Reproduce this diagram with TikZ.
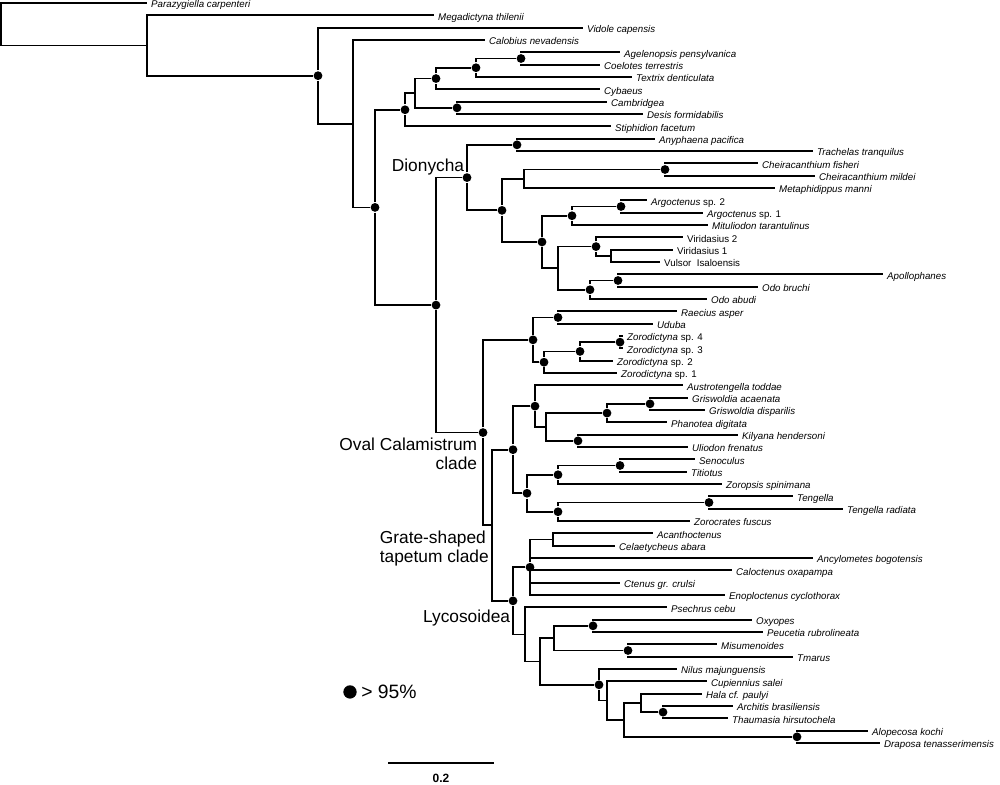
\documentclass[tikz,border=0pt]{standalone}
\usepackage{fontspec}
\setmainfont{Liberation Sans}
\usepackage{tikz}

\begin{document}
\begin{tikzpicture}[
	x=0.75pt, y=-9.25pt, line width=1.3pt,
	leaf/.style={anchor=west, font=\fontsize{7.3}{8}\selectfont\itshape, inner xsep=2.5pt, inner ysep=0, text height=7pt, text depth=0pt},
	upright/.style={font=\fontsize{7.3}{8}\selectfont\upshape},
	circ/.style={circle, fill, minimum size=6.6pt, inner sep=0},
	clade/.style={font=\fontsize{13}{14.3}\selectfont, inner sep=0}
]
\useasboundingbox (0,-0.2432) rectangle (1000,63.326);

% taxa, one row each
\node[leaf] (parazyg) at (147,0) {Parazygiella carpenteri};
\node[leaf] (megad) at (434,1) {Megadictyna thilenii};
\node[leaf] (vidole) at (583,2) {Vidole capensis};
\node[leaf] (calob) at (485,3) {Calobius nevadensis};
\node[leaf] (agel) at (620,4) {Agelenopsis pensylvanica};
\node[leaf] (coel) at (600,5) {Coelotes terrestris};
\node[leaf] (textrix) at (632,6) {Textrix denticulata};
\node[leaf] (cybaeus) at (600,7) {Cybaeus};
\node[leaf] (cambr) at (607,8) {Cambridgea};
\node[leaf] (desis) at (643,9) {Desis formidabilis};
\node[leaf] (stiph) at (611,10) {Stiphidion facetum};
\node[leaf] (anyph) at (655,11) {Anyphaena pacifica};
\node[leaf] (trach) at (813,12) {Trachelas tranquilus};
\node[leaf] (cheifi) at (758,13) {Cheiracanthium fisheri};
\node[leaf] (cheimi) at (815,14) {Cheiracanthium mildei};
\node[leaf] (metaph) at (775,15) {Metaphidippus manni};
\node[leaf] (argoc2) at (647,16) {Argoctenus \upshape sp. 2};
\node[leaf] (argoc1) at (703,17) {Argoctenus \upshape sp. 1};
\node[leaf] (mitul) at (708,18) {Mituliodon tarantulinus};
\node[leaf, upright] (virid2) at (683,19) {Viridasius 2};
\node[leaf, upright] (virid1) at (673,20) {Viridasius 1};
\node[leaf, upright] (vulsor) at (660,21) {Vulsor\ \ Isaloensis};
\node[leaf] (apoll) at (883,22) {Apollophanes};
\node[leaf] (odobr) at (758,23) {Odo bruchi};
\node[leaf] (odoab) at (707,24) {Odo abudi};
\node[leaf] (raec) at (677,25) {Raecius asper};
\node[leaf] (uduba) at (653,26) {Uduba};
\node[leaf] (zoro4) at (623,27) {Zorodictyna \upshape sp. 4};
\node[leaf] (zoro3) at (623,28) {Zorodictyna \upshape sp. 3};
\node[leaf] (zoro2) at (613,29) {Zorodictyna \upshape sp. 2};
\node[leaf] (zoro1) at (617,30) {Zorodictyna \upshape sp. 1};
\node[leaf] (austro) at (683,31) {Austrotengella toddae};
\node[leaf] (grisac) at (688,32) {Griswoldia acaenata};
\node[leaf] (grisdi) at (705,33) {Griswoldia disparilis};
\node[leaf] (phan) at (667,34) {Phanotea digitata};
\node[leaf] (kily) at (738,35) {Kilyana hendersoni};
\node[leaf] (uliod) at (688,36) {Uliodon frenatus};
\node[leaf] (senoc) at (695,37) {Senoculus};
\node[leaf] (titio) at (687,38) {Titiotus};
\node[leaf] (zoropsis) at (722,39) {Zoropsis spinimana};
\node[leaf] (tengel) at (793,40) {Tengella};
\node[leaf] (tengra) at (843,41) {Tengella radiata};
\node[leaf] (zoroc) at (690,42) {Zorocrates fuscus};
\node[leaf] (acanth) at (653,43) {Acanthoctenus};
\node[leaf] (celaet) at (615,44) {Celaetycheus abara};
\node[leaf] (ancyl) at (813,45) {Ancylometes bogotensis};
\node[leaf] (caloc) at (732,46) {Caloctenus oxapampa};
\node[leaf] (ctenus) at (620,47) {Ctenus gr. crulsi};
\node[leaf] (enopl) at (725,48) {Enoploctenus cyclothorax};
\node[leaf] (psech) at (667,49) {Psechrus cebu};
\node[leaf] (oxyop) at (752,50) {Oxyopes};
\node[leaf] (peuc) at (763,51) {Peucetia rubrolineata};
\node[leaf] (misum) at (717,52) {Misumenoides};
\node[leaf] (tmarus) at (793,53) {Tmarus};
\node[leaf] (nilus) at (677,54) {Nilus majunguensis};
\node[leaf] (cupien) at (707,55) {Cupiennius salei};
\node[leaf] (hala) at (702,56) {Hala cf. paulyi};
\node[leaf] (archit) at (733,57) {Architis brasiliensis};
\node[leaf] (thaum) at (728,58) {Thaumasia hirsutochela};
\node[leaf] (alop) at (868,59) {Alopecosa kochi};
\node[leaf] (drap) at (880,60) {Draposa tenasserimensis};

% inner nodes
\coordinate (root) at (1,1.7234);
\coordinate (nA) at (147,3.4468);
\node[circ] (nB) at (318,5.8936) {};
\coordinate (nC) at (353,9.7872);
\node[circ] (nD) at (375,16.5745) {};
\node[circ] (nE) at (405,8.6563) {};
\coordinate (nF) at (415,7.3125);
\node[circ] (nG) at (436,6.125) {};
\node[circ] (nI) at (476,5.25) {};
\node[circ] (nJ) at (521,4.5) {};
\node[circ] (nH) at (457,8.5) {};
\node[circ] (nOut) at (436,24.4927) {};
\node[circ] (nDion) at (467,14.1563) {};
\node[circ] (nK) at (517,11.5) {};
\node[circ] (nV) at (502,16.8125) {};
\coordinate (nM) at (524,14.25);
\node[circ] (nL) at (665,13.5) {};
\node[circ] (nU) at (542,19.375) {};
\node[circ] (nO) at (572,17.25) {};
\node[circ] (nN) at (621,16.5) {};
\coordinate (nT) at (558,21.5);
\node[circ] (nQ) at (596,19.75) {};
\coordinate (nP) at (611,20.5);
\node[circ] (nS) at (590,23.25) {};
\node[circ] (nR) at (618,22.5) {};
\node[circ] (nOval) at (483,34.8291) {};
\node[circ] (nAA) at (533,27.3125) {};
\node[circ] (nW) at (558,25.5) {};
\node[circ] (nZ) at (544,29.125) {};
\node[circ] (nY) at (580,28.25) {};
\node[circ] (nX) at (620,27.5) {};
\coordinate (nGrate) at (492,42.3457);
\node[circ] (nAE) at (513,36.2188) {};
\node[circ] (nAC) at (535,32.6875) {};
\coordinate (nAB) at (546,34.375);
\node[circ] (nPhan) at (607,33.25) {};
\node[circ] (nGris) at (650,32.5) {};
\node[circ] (nKil) at (578,35.5) {};
\node[circ] (nAD) at (527,39.75) {};
\node[circ] (nZorop) at (558,38.25) {};
\node[circ] (nSen) at (620,37.5) {};
\node[circ] (nZoroc) at (558,41.25) {};
\node[circ] (nTeng) at (709,40.5) {};
\node[circ] (nLycos) at (513,48.4727) {};
\node[circ] (nCten) at (530,45.75) {};
\coordinate (nAcan) at (553,43.5);
\coordinate (nAI) at (525,51.1953);
\coordinate (nAH) at (540,53.3906);
\coordinate (nAF) at (554,51.5);
\node[circ] (nOxy) at (593,50.5) {};
\node[circ] (nMis) at (628,52.5) {};
\node[circ] (nNil) at (599,55.2813) {};
\coordinate (nCup) at (607,56.5625);
\coordinate (nAG) at (624,58.125);
\coordinate (nHala) at (641,56.75);
\node[circ] (nArch) at (663,57.5) {};
\node[circ] (nLyc) at (797,59.5) {};

\draw (root) |- (parazyg) (root) |- (nA);
\draw (nA) |- (megad) (nA) |- (nB);
\draw (nB) |- (vidole) (nB) |- (nC);
\draw (nC) |- (calob) (nC) |- (nD);
\draw (nD) |- (nE) (nD) |- (nOut);
\draw (nE) |- (nF) (nE) |- (stiph);
\draw (nF) |- (nG) (nF) |- (nH);
\draw (nG) |- (nI) (nG) |- (cybaeus);
\draw (nI) |- (nJ) (nI) |- (textrix);
\draw (nJ) |- (agel) (nJ) |- (coel);
\draw (nH) |- (cambr) (nH) |- (desis);
\draw (nOut) |- (nDion) (nOut) |- (nOval);
\draw (nDion) |- (nK) (nDion) |- (nV);
\draw (nK) |- (anyph) (nK) |- (trach);
\draw (nV) |- (nM) (nV) |- (nU);
\draw (nM) |- (nL) (nM) |- (metaph);
\draw (nL) |- (cheifi) (nL) |- (cheimi);
\draw (nU) |- (nO) (nU) |- (nT);
\draw (nO) |- (nN) (nO) |- (mitul);
\draw (nN) |- (argoc2) (nN) |- (argoc1);
\draw (nT) |- (nQ) (nT) |- (nS);
\draw (nQ) |- (virid2) (nQ) |- (nP);
\draw (nP) |- (virid1) (nP) |- (vulsor);
\draw (nS) |- (nR) (nS) |- (odoab);
\draw (nR) |- (apoll) (nR) |- (odobr);
\draw (nOval) |- (nAA) (nOval) |- (nGrate);
\draw (nAA) |- (nW) (nAA) |- (nZ);
\draw (nW) |- (raec) (nW) |- (uduba);
\draw (nZ) |- (nY) (nZ) |- (zoro1);
\draw (nY) |- (nX) (nY) |- (zoro2);
\draw (nX) |- (zoro4) (nX) |- (zoro3);
\draw (nGrate) |- (nAE) (nGrate) |- (nLycos);
\draw (nAE) |- (nAC) (nAE) |- (nAD);
\draw (nAC) |- (austro) (nAC) |- (nAB);
\draw (nAB) |- (nPhan) (nAB) |- (nKil);
\draw (nPhan) |- (nGris) (nPhan) |- (phan);
\draw (nGris) |- (grisac) (nGris) |- (grisdi);
\draw (nKil) |- (kily) (nKil) |- (uliod);
\draw (nAD) |- (nZorop) (nAD) |- (nZoroc);
\draw (nZorop) |- (nSen) (nZorop) |- (zoropsis);
\draw (nSen) |- (senoc) (nSen) |- (titio);
\draw (nZoroc) |- (nTeng) (nZoroc) |- (zoroc);
\draw (nTeng) |- (tengel) (nTeng) |- (tengra);
\draw (nLycos) |- (nCten) (nLycos) |- (nAI);
\draw (nCten) |- (nAcan) (nCten) |- (ancyl) (nCten) |- (caloc) (nCten) |- (ctenus) (nCten) |- (enopl);
\draw (nAcan) |- (acanth) (nAcan) |- (celaet);
\draw (nAI) |- (psech) (nAI) |- (nAH);
\draw (nAH) |- (nAF) (nAH) |- (nNil);
\draw (nAF) |- (nOxy) (nAF) |- (nMis);
\draw (nOxy) |- (oxyop) (nOxy) |- (peuc);
\draw (nMis) |- (misum) (nMis) |- (tmarus);
\draw (nNil) |- (nilus) (nNil) |- (nCup);
\draw (nCup) |- (cupien) (nCup) |- (nAG);
\draw (nAG) |- (nHala) (nAG) |- (nLyc);
\draw (nHala) |- (hala) (nHala) |- (nArch);
\draw (nArch) |- (archit) (nArch) |- (thaum);
\draw (nLyc) |- (alop) (nLyc) |- (drap);

% clade names
\node[clade, anchor=base east] (dionycha) at (465,13.70) {Dionycha};
\node[clade, anchor=east, align=right] (ovalcal) at (478,36.58) {Oval Calamistrum\\clade};
\node[clade, anchor=west, align=left] (grate) at (379,44.26) {Grate-shaped\\tapetum clade};
\node[clade, anchor=base east] (lycoso) at (511,50.19) {Lycosoidea};

% key and scale
\node[circ, minimum size=10pt] (keydot) at (350,55.86) {};
\node[anchor=west, inner sep=0, font=\fontsize{14.5}{16}\selectfont] (keytext) at ([xshift=2.2pt]keydot.east) {> 95\%};
\coordinate (bar0) at (388,61.62);
\coordinate (bar1) at (494,61.62);
\draw (bar0) -- (bar1) node[midway, below=8pt, inner sep=0, font=\fontsize{9}{10}\selectfont\bfseries] (barlab) {0.2};
\end{tikzpicture}
\end{document}
